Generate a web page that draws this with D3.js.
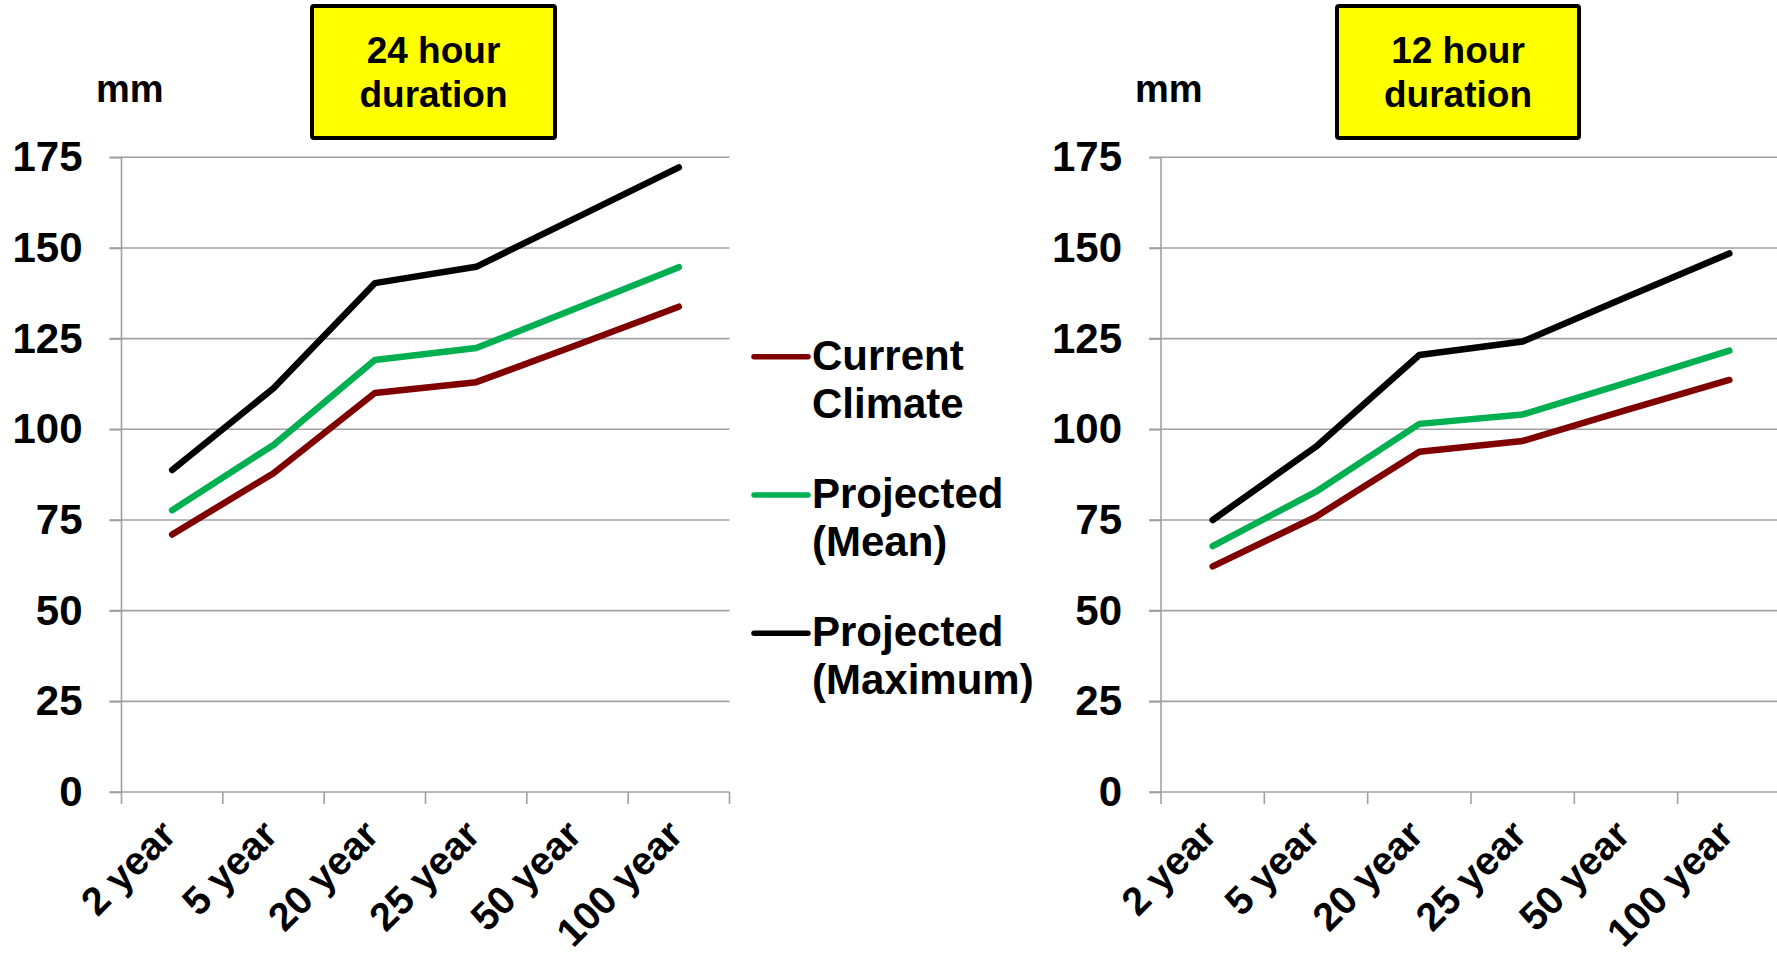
<!DOCTYPE html>
<html><head><meta charset="utf-8">
<script src="https://cdn.jsdelivr.net/npm/d3@7"></script>
<style>
html,body{margin:0;padding:0;background:#fff;overflow:hidden;}
svg{display:block;}
text{font-family:"Liberation Sans",Arial,Helvetica,sans-serif;font-weight:bold;fill:#000;}
</style></head><body>
<svg id="chart" width="1777" height="958"></svg>
<script>
// ---- data ----
const categories = ["2 year", "5 year", "20 year", "25 year", "50 year", "100 year"];
const yTicks = [0, 25, 50, 75, 100, 125, 150, 175];
const seriesNames = ["Current Climate", "Projected (Mean)", "Projected (Maximum)"];
const legendLabels = [["Current", "Climate"], ["Projected", "(Mean)"], ["Projected", "(Maximum)"]];
const seriesColors = ["#800000", "#00b050", "#000000"];

const h24Current = [71.0, 87.9, 110.0, 113.0, 123.3, 133.8];
const h24Mean    = [77.7, 95.7, 119.1, 122.4, 133.5, 144.7];
const h24Max     = [88.8, 111.3, 140.3, 144.8, 158.5, 172.2];

const h12Current = [62.2, 75.9, 93.8, 96.8, 105.3, 113.6];
const h12Mean    = [67.8, 82.8, 101.5, 104.1, 112.8, 121.7];
const h12Max     = [75.0, 95.2, 120.5, 124.2, 136.4, 148.5];

const panelTitles = [["24 hour", "duration"], ["12 hour", "duration"]];
const unitLabel = "mm";

// ---- layout ----
const svg = d3.select("#chart");
const yTop = 157.3, yBottom = 792;
const panels = [
  {x0: 121.5, x1: 729.5, series: [h24Current, h24Mean, h24Max], title: panelTitles[0], box: [312, 6, 243, 132], mmX: 96},
  {x0: 1161, x1: 1781, series: [h12Current, h12Mean, h12Max], title: panelTitles[1], box: [1337, 6, 242, 132], mmX: 1135}
];
const gridColor = "#a0a0a0";
const fontStack = "'Liberation Sans', Arial, sans-serif";

panels.forEach(p => {
  const x = d3.scaleBand().domain(categories).range([p.x0, p.x1]).padding(0);
  const y = d3.scaleLinear().domain([0, 175]).range([yBottom, yTop]);
  const g = svg.append("g");

  // gridlines
  g.selectAll("line.grid").data(yTicks).join("line")
    .attr("x1", p.x0 - 12).attr("x2", p.x1)
    .attr("y1", d => y(d)).attr("y2", d => y(d))
    .attr("stroke", gridColor).attr("stroke-width", 1.6);

  // y axis
  const yAxis = d3.axisLeft(y).tickValues(yTicks).tickSize(12).tickPadding(27).tickFormat(d3.format("d"));
  const ya = g.append("g").attr("transform", `translate(${p.x0},0)`).call(yAxis);
  ya.select(".domain").attr("stroke", gridColor).attr("stroke-width", 1.6).attr("d", `M0,${yBottom}V${yTop}`);
  ya.selectAll(".tick line").attr("stroke", gridColor).attr("stroke-width", 1.6);
  ya.selectAll(".tick text").style("font-size", "42px").style("font-family", fontStack).style("font-weight", "bold").attr("fill", "#000");

  // x axis boundary ticks
  const bounds = categories.map(c => x(c)).concat([x.range()[1]]);
  g.selectAll("line.xt").data(bounds).join("line")
    .attr("x1", d => d).attr("x2", d => d)
    .attr("y1", yBottom).attr("y2", yBottom + 12)
    .attr("stroke", gridColor).attr("stroke-width", 1.6);

  // x labels
  const xAxis = d3.axisBottom(x).tickSize(0);
  const xa = g.append("g").attr("transform", `translate(0,${yBottom})`).call(xAxis);
  xa.select(".domain").remove();
  xa.selectAll(".tick text")
    .attr("y", 0).attr("dy", 0)
    .attr("transform", "translate(6,45) rotate(-45)")
    .style("text-anchor", "end")
    .style("font-size", "39.5px").style("font-family", fontStack).style("font-weight", "bold").attr("fill", "#000");

  // lines
  const line = d3.line().x((d, i) => x(categories[i]) + x.bandwidth() / 2).y(d => y(d));
  p.series.forEach((s, k) => {
    g.append("path").datum(s).attr("d", line)
      .attr("fill", "none").attr("stroke", seriesColors[k]).attr("stroke-width", 6.5)
      .attr("stroke-linecap", "round").attr("stroke-linejoin", "round");
  });

  // mm label
  g.append("text").attr("x", p.mmX).attr("y", 102).style("font-size", "38px").text(unitLabel);

  // title box
  const [bx, by, bw, bh] = p.box;
  g.append("rect").attr("x", bx).attr("y", by).attr("width", bw).attr("height", bh)
    .attr("fill", "#ffff00").attr("stroke", "#000").attr("stroke-width", 4).attr("rx", 2);
  const tt = g.append("text").attr("text-anchor", "middle").style("font-size", "37px");
  tt.append("tspan").attr("x", bx + bw / 2).attr("y", 63).text(p.title[0]);
  tt.append("tspan").attr("x", bx + bw / 2).attr("y", 107).text(p.title[1]);
});

// legend
const legendY = [356.7, 495, 633.3];
seriesNames.forEach((name, k) => {
  const lg = svg.append("g");
  lg.append("line").attr("x1", 754).attr("x2", 808).attr("y1", legendY[k]).attr("y2", legendY[k])
    .attr("stroke", seriesColors[k]).attr("stroke-width", 5.5).attr("stroke-linecap", "round");
  const t = lg.append("text").style("font-size", "42px");
  t.append("tspan").attr("x", 812).attr("y", legendY[k] + 13).text(legendLabels[k][0]);
  t.append("tspan").attr("x", 812).attr("y", legendY[k] + 61).text(legendLabels[k][1]);
});
</script>
</body></html>
